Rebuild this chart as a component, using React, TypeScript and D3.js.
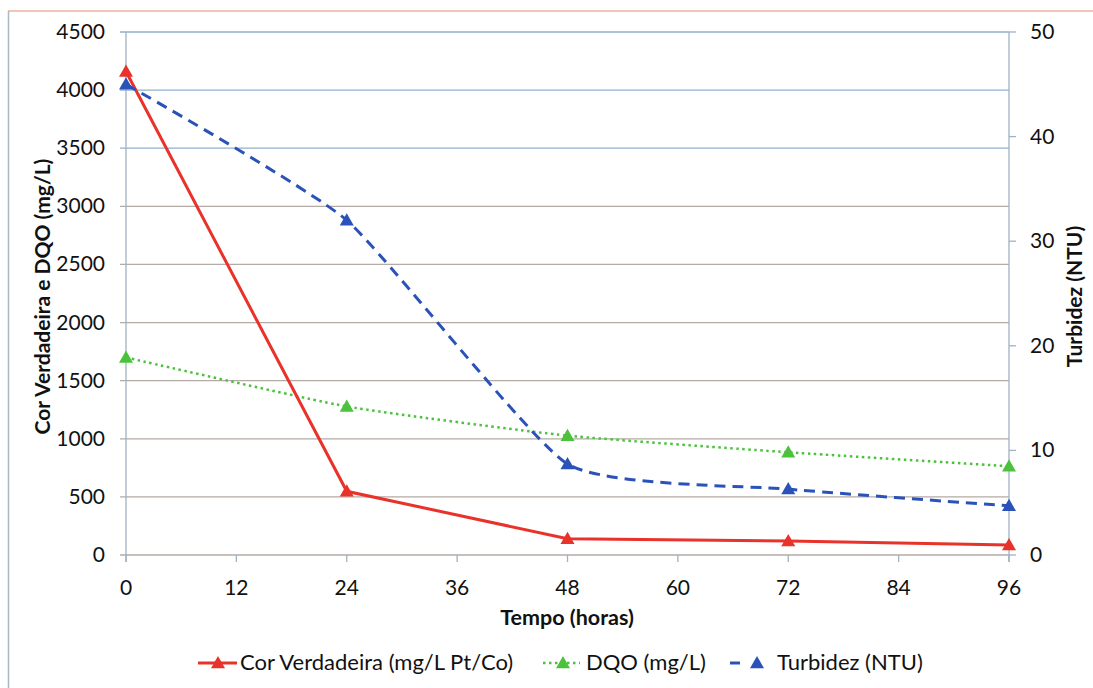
import React from "react";
import * as d3 from "d3";

const hours = [0, 24, 48, 72, 96];
const corVerdadeira = [4160, 548, 140, 120, 86];
const dqo = [1700, 1278, 1027, 884, 764];
const turbidez = [45, 32, 8.7, 6.3, 4.7];
const xTicks = [0, 12, 24, 36, 48, 60, 72, 84, 96];
const leftTicks = [0, 500, 1000, 1500, 2000, 2500, 3000, 3500, 4000, 4500];
const rightTicks = [0, 10, 20, 30, 40, 50];

const W = 1093;
const H = 688;
const m = { left: 126, right: 1009, top: 32, bottom: 555 };
const FONT = "Lato, 'Open Sans', sans-serif";

function Tri({ x, y, color }: { x: number; y: number; color: string }) {
  const s = 7;
  return (
    <path
      d={`M${x},${y - s} L${x + s},${y + s * 0.75} L${x - s},${y + s * 0.75} Z`}
      fill={color}
    />
  );
}

export default function App() {
  const x = d3.scaleLinear().domain([0, 96]).range([m.left, m.right]);
  const yL = d3.scaleLinear().domain([0, 4500]).range([m.bottom, m.top]);
  const yR = d3.scaleLinear().domain([0, 50]).range([m.bottom, m.top]);

  const red = "#e8322a";
  const green = "#4cc23c";
  const blue = "#2a52b8";

  const lineRed = d3
    .line<number>()
    .x((_, i) => x(hours[i]))
    .y((d) => yL(d))(corVerdadeira) as string;
  const lineGreen = d3
    .line<number>()
    .x((_, i) => x(hours[i]))
    .y((d) => yL(d))
    .curve(d3.curveCardinal.tension(0.5))(dqo) as string;
  const lineBlue = d3
    .line<number>()
    .x((_, i) => x(hours[i]))
    .y((d) => yR(d))
    .curve(d3.curveCardinal.tension(0.5))(turbidez) as string;

  const legendY = 663;
  const tickFs = 21;

  return (
    <div style={{ position: "absolute", left: 0, top: 0 }}>
      <svg width={W} height={H} style={{ display: "block" }} fontFamily={FONT}>
        <rect x={0} y={0} width={W} height={H} fill="#fff" />
        {/* outer border */}
        <line x1={8} y1={11} x2={W} y2={11} stroke="#e9b4a2" strokeWidth={1.5} />
        <line x1={8.5} y1={11} x2={8.5} y2={H} stroke="#a9b8c6" strokeWidth={1.5} />

        {/* gridlines */}
        {leftTicks.map((t) => (
          <line
            key={"g" + t}
            x1={m.left - 6}
            x2={m.right}
            y1={yL(t)}
            y2={yL(t)}
            stroke={t >= 3500 ? "#8fb0cc" : "#b4aaa6"}
            strokeWidth={1.3}
          />
        ))}
        {/* axes */}
        <line x1={m.left} x2={m.left} y1={m.top} y2={m.bottom + 7} stroke="#9fb2c4" strokeWidth={1.3} />
        <line x1={m.right} x2={m.right} y1={m.top} y2={m.bottom + 7} stroke="#9fb2c4" strokeWidth={1.3} />
        {xTicks.map((t) => (
          <g key={"x" + t}>
            <line x1={x(t)} x2={x(t)} y1={m.bottom} y2={m.bottom + 7} stroke="#9fb2c4" strokeWidth={1.3} />
            <text x={x(t)} y={595} textAnchor="middle" fontSize={tickFs} fill="#111">
              {t}
            </text>
          </g>
        ))}
        {leftTicks.map((t) => (
          <text key={"l" + t} x={105} y={yL(t) + 7} textAnchor="end" fontSize={tickFs} fill="#111">
            {t}
          </text>
        ))}
        {rightTicks.map((t) => (
          <g key={"r" + t}>
            <line x1={m.right} x2={m.right + 7} y1={yR(t)} y2={yR(t)} stroke="#9fb2c4" strokeWidth={1.3} />
            <text x={1030} y={yR(t) + 7} textAnchor="start" fontSize={tickFs} fill="#111">
              {t}
            </text>
          </g>
        ))}

        {/* axis titles */}
        <text x={567} y={625} textAnchor="middle" fontSize={21.5} fontWeight="bold" fill="#111">
          Tempo (horas)
        </text>
        <text
          transform={`translate(50,${(m.top + m.bottom) / 2 + 3}) rotate(-90)`}
          textAnchor="middle"
          fontSize={21}
          fontWeight="bold"
          fill="#111"
        >
          Cor Verdadeira e DQO (mg/L)
        </text>
        <text
          transform={`translate(1082,${(m.top + m.bottom) / 2 + 3}) rotate(-90)`}
          textAnchor="middle"
          fontSize={21}
          fontWeight="bold"
          fill="#111"
        >
          Turbidez (NTU)
        </text>

        {/* series */}
        <path d={lineGreen} fill="none" stroke={green} strokeWidth={2.5} strokeDasharray="2.5,3.5" />
        <path d={lineRed} fill="none" stroke={red} strokeWidth={3} />
        <path d={lineBlue} fill="none" stroke={blue} strokeWidth={3} strokeDasharray="11,7" />
        {dqo.map((v, i) => (
          <Tri key={"dg" + i} x={x(hours[i])} y={yL(v)} color={green} />
        ))}
        {corVerdadeira.map((v, i) => (
          <Tri key={"dr" + i} x={x(hours[i])} y={yL(v)} color={red} />
        ))}
        {turbidez.map((v, i) => (
          <Tri key={"db" + i} x={x(hours[i])} y={yR(v)} color={blue} />
        ))}

        {/* legend */}
        <line x1={198} x2={237} y1={legendY} y2={legendY} stroke={red} strokeWidth={3} />
        <Tri x={218} y={legendY} color={red} />
        <text x={240} y={legendY + 7} fontSize={22} fill="#111">
          Cor Verdadeira (mg/L Pt/Co)
        </text>
        <line x1={543} x2={580} y1={legendY} y2={legendY} stroke={green} strokeWidth={2.5} strokeDasharray="2.5,3.5" />
        <Tri x={563} y={legendY} color={green} />
        <text x={586} y={legendY + 7} fontSize={22} fill="#111">
          DQO (mg/L)
        </text>
        <line x1={730} x2={764} y1={legendY} y2={legendY} stroke={blue} strokeWidth={3} strokeDasharray="10,30" />
        <Tri x={757} y={legendY} color={blue} />
        <text x={777} y={legendY + 7} fontSize={22} fill="#111">
          Turbidez (NTU)
        </text>
      </svg>
    </div>
  );
}
